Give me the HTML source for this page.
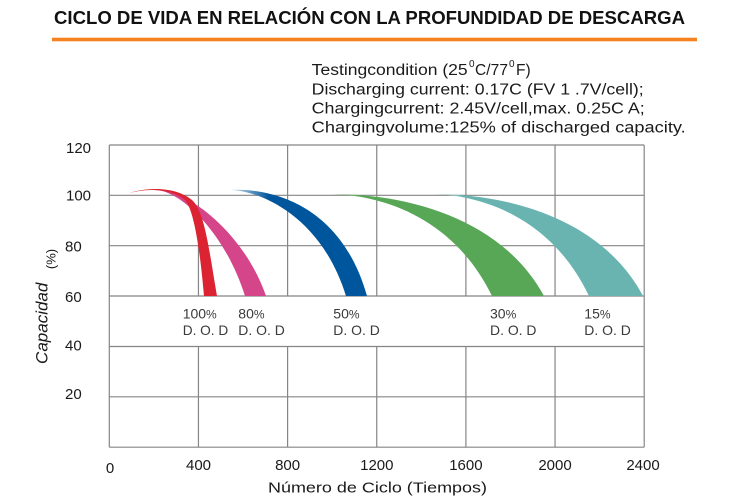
<!DOCTYPE html>
<html><head><meta charset="utf-8"><style>
html,body{margin:0;padding:0;background:#fff;}
svg{display:block;}
text{font-family:"Liberation Sans",sans-serif;}
</style></head><body>
<svg width="750" height="500" viewBox="0 0 750 500" xmlns="http://www.w3.org/2000/svg">
<defs>
<linearGradient id="gB" x1="0" y1="0" x2="1" y2="0"><stop offset="0" stop-color="#d5e3f0"/><stop offset="0.28" stop-color="#00569c"/><stop offset="1" stop-color="#00569c"/></linearGradient>
<linearGradient id="gG" x1="0" y1="0" x2="1" y2="0"><stop offset="0" stop-color="#d9ecd9"/><stop offset="0.14" stop-color="#57a757"/><stop offset="1" stop-color="#57a757"/></linearGradient>
<linearGradient id="gT" x1="0" y1="0" x2="1" y2="0"><stop offset="0" stop-color="#e2f1f0"/><stop offset="0.16" stop-color="#69b4b1"/><stop offset="1" stop-color="#69b4b1"/></linearGradient>
</defs>
<rect width="750" height="500" fill="#fff"/>
<!-- title -->
<text x="54" y="24" font-size="18" font-weight="bold" fill="#111" textLength="631" lengthAdjust="spacingAndGlyphs">CICLO DE VIDA EN RELACIÓN CON LA PROFUNDIDAD DE DESCARGA</text>
<rect x="52" y="37.7" width="645" height="3.6" fill="#f5821f"/>
<!-- header text -->
<g font-size="15.5" fill="#1a1a1a">
<text x="311.7" y="75" textLength="156" lengthAdjust="spacingAndGlyphs">Testingcondition (25</text>
<text x="469" y="67" font-size="10">0</text>
<text x="475" y="75" textLength="33" lengthAdjust="spacing">C/77</text>
<text x="509" y="67" font-size="10">0</text>
<text x="516" y="75">F)</text>
<text x="311.7" y="94.3" textLength="332" lengthAdjust="spacingAndGlyphs">Discharging current: 0.17C (FV 1 .7V/cell);</text>
<text x="311.7" y="113.3" textLength="333" lengthAdjust="spacingAndGlyphs">Chargingcurrent: 2.45V/cell,max. 0.25C A;</text>
<text x="311.7" y="132.3" textLength="374" lengthAdjust="spacingAndGlyphs">Chargingvolume:125% of discharged capacity.</text>
</g>
<!-- grid -->
<g stroke="#858585" stroke-width="1.2" fill="none">
<line x1="109.3" y1="145" x2="644.2" y2="145"/>
<line x1="109.3" y1="195.3" x2="644.2" y2="195.3"/>
<line x1="109.3" y1="245.7" x2="644.2" y2="245.7"/>
<line x1="109.3" y1="296" x2="644.2" y2="296"/>
<line x1="109.3" y1="346.5" x2="644.2" y2="346.5"/>
<line x1="109.3" y1="396.8" x2="644.2" y2="396.8"/>
<line x1="109.3" y1="447.2" x2="644.2" y2="447.2"/>
<line x1="109.3" y1="145" x2="109.3" y2="447.2"/>
<line x1="644.2" y1="145" x2="644.2" y2="447.2"/>
<line x1="198.45" y1="145" x2="198.45" y2="296"/>
<line x1="287.6" y1="145" x2="287.6" y2="296"/>
<line x1="376.75" y1="145" x2="376.75" y2="296"/>
<line x1="465.9" y1="145" x2="465.9" y2="296"/>
<line x1="555.05" y1="145" x2="555.05" y2="296"/>
<line x1="198.45" y1="346.5" x2="198.45" y2="447.2"/>
<line x1="287.6" y1="346.5" x2="287.6" y2="447.2"/>
<line x1="376.75" y1="346.5" x2="376.75" y2="447.2"/>
<line x1="465.9" y1="346.5" x2="465.9" y2="447.2"/>
<line x1="555.05" y1="346.5" x2="555.05" y2="447.2"/>
</g>
<!-- bands -->
<path d="M430,194 C500,193 600,215 643,296 L589,296 C548,210 470,194 430,194 Z" fill="url(#gT)"/>
<path d="M328,194 C400,193 500,215 544,296 L492,296 C450,210 370,194 328,194 Z" fill="url(#gG)"/>
<path d="M230,190 C265,188 340,200 367,296 L346,296 C320,212 255,190 230,190 Z" fill="url(#gB)"/>
<path d="M155,189 C190,190 245,235 266,296 L245,296 C225,232 180,190 155,190 Z" fill="#d4458a"/>
<path d="M127,194 C145,187 175,186 192,200 C205,212 209,250 217,296 L204,296 C200,250 194,210 185,200 C170,188 145,188 127,194 Z" fill="#dc2332"/>
<!-- DOD labels -->
<g fill="#3a3a3a" font-size="14">
<text x="182.7" y="318.3">100<tspan font-size="12">%</tspan></text>
<text x="182.7" y="335" textLength="45.6" lengthAdjust="spacingAndGlyphs">D. O. D</text>
<text x="238.3" y="318.3">80<tspan font-size="12">%</tspan></text>
<text x="238.3" y="335" textLength="46.5" lengthAdjust="spacingAndGlyphs">D. O. D</text>
<text x="333.3" y="318.3">50<tspan font-size="12">%</tspan></text>
<text x="333.3" y="335" textLength="46.5" lengthAdjust="spacingAndGlyphs">D. O. D</text>
<text x="490" y="318.3">30<tspan font-size="12">%</tspan></text>
<text x="490" y="335" textLength="46.5" lengthAdjust="spacingAndGlyphs">D. O. D</text>
<text x="584.3" y="318.3">15<tspan font-size="12">%</tspan></text>
<text x="584.3" y="335" textLength="46.5" lengthAdjust="spacingAndGlyphs">D. O. D</text>
</g>
<!-- y tick labels -->
<g fill="#1a1a1a" font-size="15">
<text x="66" y="152.8">120</text>
<text x="66" y="200.5">100</text>
<text x="65" y="251.5">80</text>
<text x="65" y="302">60</text>
<text x="65" y="350.5">40</text>
<text x="65" y="399">20</text>
</g>
<!-- x tick labels -->
<g fill="#1a1a1a" font-size="15" text-anchor="middle">
<text x="110" y="473">0</text>
<text x="198.5" y="470">400</text>
<text x="287.6" y="470">800</text>
<text x="376.8" y="470">1200</text>
<text x="465.9" y="470">1600</text>
<text x="555" y="470">2000</text>
<text x="643" y="470">2400</text>
</g>
<text x="268" y="492.7" font-size="15" fill="#1a1a1a" textLength="219" lengthAdjust="spacingAndGlyphs">Número de Ciclo (Tiempos)</text>
<!-- y axis label -->
<text transform="translate(47.3,323.3) rotate(-90)" text-anchor="middle" font-size="17" font-style="italic" fill="#1a1a1a">Capacidad</text>
<text transform="translate(55.5,259) rotate(-90)" text-anchor="middle" font-size="13" fill="#1a1a1a">(%)</text>
</svg>
</body></html>
